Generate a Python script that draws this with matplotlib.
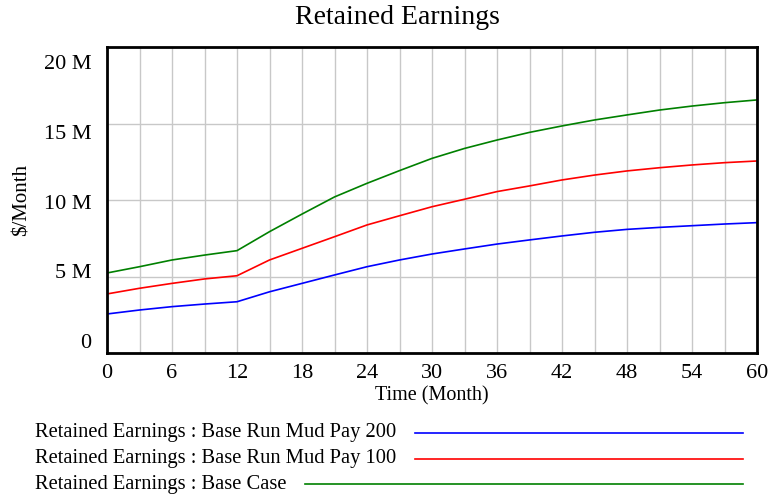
import matplotlib.pyplot as plt
from matplotlib.lines import Line2D
from matplotlib.ticker import MultipleLocator

plt.rcParams['font.family'] = ['Liberation Serif', 'DejaVu Serif']

# time (month) and retained earnings (millions $)
t = [0, 3, 6, 9, 12, 15, 18, 21, 24, 27, 30, 33, 36, 39, 42, 45, 48, 51, 54, 57, 60]
mud200 = [2.55, 2.81, 3.03, 3.2, 3.35, 4.0, 4.55, 5.1, 5.64, 6.08, 6.47, 6.8, 7.12,
          7.39, 7.65, 7.89, 8.08, 8.21, 8.32, 8.43, 8.52]
mud100 = [3.86, 4.23, 4.55, 4.84, 5.05, 6.08, 6.84, 7.6, 8.37, 8.97, 9.56, 10.05, 10.55,
          10.92, 11.31, 11.63, 11.9, 12.11, 12.29, 12.44, 12.55]
base = [5.23, 5.64, 6.08, 6.4, 6.69, 7.93, 9.08, 10.2, 11.09, 11.92, 12.72, 13.37, 13.92,
        14.42, 14.84, 15.23, 15.56, 15.88, 16.14, 16.36, 16.54]

yvals = [0, 5, 10, 15, 20]
ylabels = ['0', '5 M', '10 M', '15 M', '20 M']

names = ['Retained Earnings : Base Run Mud Pay 200',
         'Retained Earnings : Base Run Mud Pay 100',
         'Retained Earnings : Base Case']
colors = ['#0000ff', '#ff0000', '#008000']

fig = plt.figure(figsize=(7.69, 5), dpi=100)
ax = fig.add_axes([107/769, 1-353/500, 650/769, 306/500])

for y, c in zip([mud200, mud100, base], colors):
    ax.plot(t, y, color=c, lw=1.2)

ax.set_xlim(0, 60)
ax.set_ylim(0, 20)
ax.xaxis.set_major_locator(MultipleLocator(6))
ax.xaxis.set_minor_locator(MultipleLocator(3))
# Vensim squeezes the value labels inward a little; gridlines stay on the values
ax.set_yticks(yvals, minor=True)
ax.set_yticks([0.78 + 0.912*v for v in yvals])
ax.set_yticklabels(ylabels)
ax.grid(True, axis='x', which='both', color='#c8c8c8', lw=1)
ax.grid(True, axis='y', which='minor', color='#c8c8c8', lw=1)
ax.set_axisbelow(True)
ax.tick_params(which='both', length=0, labelsize=16)
ax.tick_params(axis='x', pad=8)
ax.tick_params(axis='y', pad=11)
for s in ax.spines.values():
    s.set_linewidth(2)
    s.set_color('black')

ax.set_xlabel('Time (Month)', fontsize=14.5, labelpad=2)
ax.set_ylabel(r'\$/Month', fontsize=15, labelpad=9)
fig.text(397/769, 1-18/500, 'Retained Earnings', ha='center', va='center', fontsize=20)

# legend drawn below the plot like the original
rows = [433, 459, 484]
starts = [415, 415, 305]
for name, c, r, x0 in zip(names, colors, rows, starts):
    fig.text(35/769, 1-r/500, name, ha='left', va='center', fontsize=14.8)
    fig.add_artist(Line2D([x0/769, 743/769], [1-r/500, 1-r/500], color=c, lw=1.2))

fig.savefig('out.png', dpi=100)
